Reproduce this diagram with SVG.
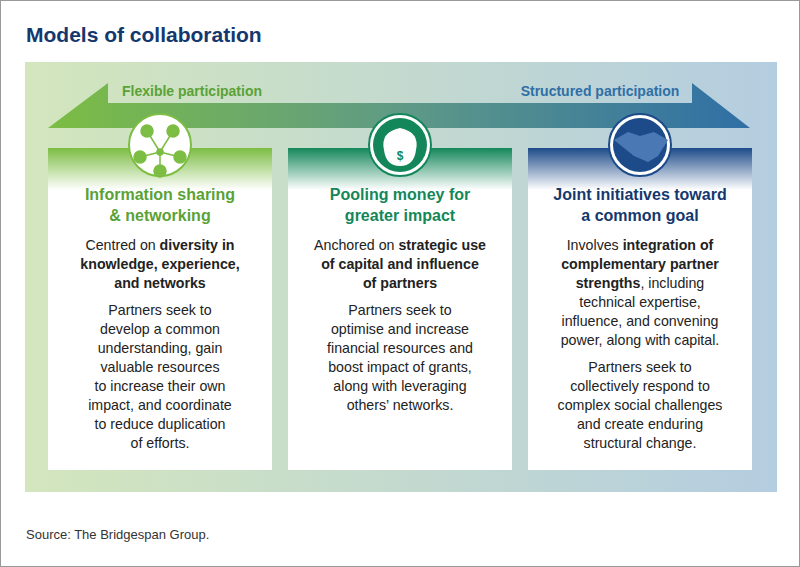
<svg xmlns="http://www.w3.org/2000/svg" width="800" height="567" viewBox="0 0 800 567">
<defs>
<linearGradient id="bg" x1="0" x2="1"><stop offset="0" stop-color="#d3e6bd"/><stop offset="1" stop-color="#b4cde0"/></linearGradient>
<linearGradient id="band" x1="0" x2="1"><stop offset="0" stop-color="#7cbd43"/><stop offset="0.5" stop-color="#5f9a86"/><stop offset="1" stop-color="#2f6fa5"/></linearGradient>
<linearGradient id="h1" x1="0" y1="0" x2="0" y2="1"><stop offset="0" stop-color="#7cbd43"/><stop offset="1" stop-color="#fff"/></linearGradient>
<linearGradient id="h2" x1="0" y1="0" x2="0" y2="1"><stop offset="0" stop-color="#14875a"/><stop offset="1" stop-color="#fff"/></linearGradient>
<linearGradient id="h3" x1="0" y1="0" x2="0" y2="1"><stop offset="0" stop-color="#1d4b8a"/><stop offset="1" stop-color="#fff"/></linearGradient>
</defs>
<style>
text{font-family:"Liberation Sans",Arial,sans-serif;text-anchor:middle}
.t{font-size:16px;font-weight:bold}
.b{font-size:14.2px;fill:#222}
.bb{font-weight:bold}
</style>
<rect width="800" height="567" fill="#fff"/>
<rect x="0.5" y="0.5" width="799" height="566" fill="none" stroke="#999"/>
<text x="26" y="42" style="text-anchor:start;font-size:21px;font-weight:bold;fill:#14386e">Models of collaboration</text>
<rect x="25" y="62" width="752" height="430" fill="url(#bg)"/>
<polygon points="48,128 108,83 108,103 692,103 692,83 750,128" fill="url(#band)"/>
<text x="192" y="96" style="font-size:14px;font-weight:bold;fill:#5aa235">Flexible participation</text>
<text x="600" y="96" style="font-size:14px;font-weight:bold;fill:#2f6fa5">Structured participation</text>
<g id="node1">
<rect x="48" y="148" width="224" height="322" fill="#fff"/>
<rect x="48" y="148" width="224" height="42" fill="url(#h1)"/>
<circle cx="160" cy="145" r="31" fill="#fff" stroke="#7cbd43" stroke-width="2"/>
<g stroke="#7cbd43" stroke-width="1.5" fill="#7cbd43">
<line x1="160" y1="152" x2="147" y2="131"/><line x1="160" y1="152" x2="173" y2="131"/><line x1="160" y1="152" x2="140" y2="157"/><line x1="160" y1="152" x2="180" y2="157"/><line x1="160" y1="152" x2="160" y2="171"/>
<circle cx="160" cy="152" r="3"/><circle cx="147" cy="131" r="6"/><circle cx="173" cy="131" r="6"/><circle cx="140" cy="157" r="6"/><circle cx="180" cy="157" r="6"/><circle cx="160" cy="171" r="6"/>
</g>
<text x="160" y="200" class="t" fill="#5aa235">Information sharing</text>
<text x="160" y="221" class="t" fill="#5aa235">&amp; networking</text>
<text class="b" x="160" y="250">Centred on <tspan class="bb">diversity in</tspan></text>
<text class="b bb" x="160" y="269">knowledge, experience,</text>
<text class="b bb" x="160" y="288">and networks</text>
<text class="b" x="160" y="315">Partners seek to</text>
<text class="b" x="160" y="334">develop a common</text>
<text class="b" x="160" y="353">understanding, gain</text>
<text class="b" x="160" y="372">valuable resources</text>
<text class="b" x="160" y="391">to increase their own</text>
<text class="b" x="160" y="410">impact, and coordinate</text>
<text class="b" x="160" y="429">to reduce duplication</text>
<text class="b" x="160" y="448">of efforts.</text>
</g>
<g id="node2">
<rect x="288" y="148" width="224" height="322" fill="#fff"/>
<rect x="288" y="148" width="224" height="42" fill="url(#h2)"/>
<circle cx="400" cy="145" r="31" fill="#fff" stroke="#14875a" stroke-width="2"/>
<circle cx="400" cy="145" r="27" fill="#14875a"/>
<path d="M384,150 q-4,-18 16,-22 q20,4 16,22 q-2,16 -16,16 q-14,0 -16,-16z" fill="#fff"/>
<text x="400" y="160" style="font-size:12px;font-weight:bold;fill:#14875a">$</text>
<text x="400" y="200" class="t" fill="#14875a">Pooling money for</text>
<text x="400" y="221" class="t" fill="#14875a">greater impact</text>
<text class="b" x="400" y="250">Anchored on <tspan class="bb">strategic use</tspan></text>
<text class="b bb" x="400" y="269">of capital and influence</text>
<text class="b bb" x="400" y="288">of partners</text>
<text class="b" x="400" y="315">Partners seek to</text>
<text class="b" x="400" y="334">optimise and increase</text>
<text class="b" x="400" y="353">financial resources and</text>
<text class="b" x="400" y="372">boost impact of grants,</text>
<text class="b" x="400" y="391">along with leveraging</text>
<text class="b" x="400" y="410">others’ networks.</text>
</g>
<g id="node3">
<rect x="528" y="148" width="224" height="322" fill="#fff"/>
<rect x="528" y="148" width="224" height="42" fill="url(#h3)"/>
<circle cx="640" cy="145" r="31" fill="#fff" stroke="#1d4b8a" stroke-width="2"/>
<circle cx="640" cy="145" r="27" fill="#1d4b8a"/>
<path d="M614,140 l14,-8 l12,4 l14,-4 l14,8 l-10,16 l-10,6 l-14,-6z" fill="#4a78b5"/>
<text x="640" y="200" class="t" fill="#14386e">Joint initiatives toward</text>
<text x="640" y="221" class="t" fill="#14386e">a common goal</text>
<text class="b" x="640" y="250">Involves <tspan class="bb">integration of</tspan></text>
<text class="b bb" x="640" y="269">complementary partner</text>
<text class="b" x="640" y="288"><tspan class="bb">strengths</tspan>, including</text>
<text class="b" x="640" y="307">technical expertise,</text>
<text class="b" x="640" y="326">influence, and convening</text>
<text class="b" x="640" y="345">power, along with capital.</text>
<text class="b" x="640" y="372">Partners seek to</text>
<text class="b" x="640" y="391">collectively respond to</text>
<text class="b" x="640" y="410">complex social challenges</text>
<text class="b" x="640" y="429">and create enduring</text>
<text class="b" x="640" y="448">structural change.</text>
</g>
<g id="connectors"/>
<text x="26" y="539" style="text-anchor:start;font-size:13px;fill:#333">Source: The Bridgespan Group.</text>
</svg>
